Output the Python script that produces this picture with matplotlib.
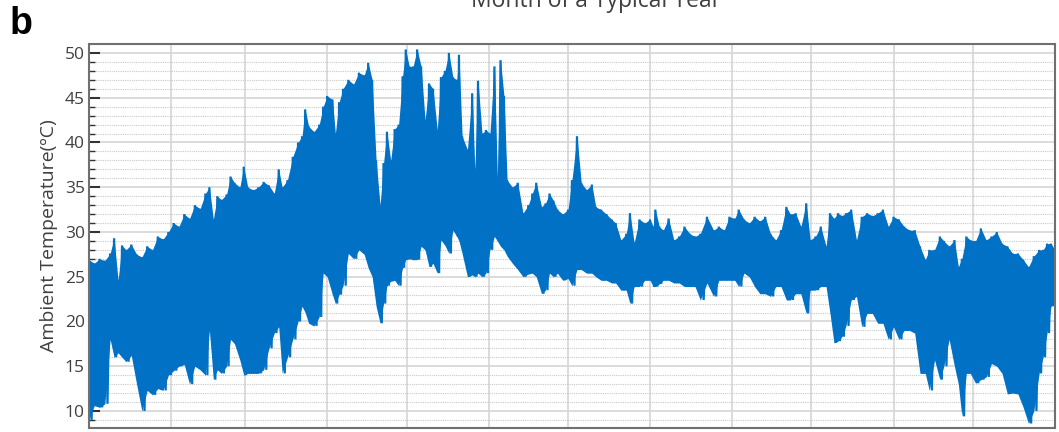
import numpy as np
import matplotlib.pyplot as plt

# day of year, daily high / low envelope (deg C)
day = [0, 2, 4, 6, 8, 9.5, 11, 12.5, 14, 16, 18, 20, 22, 24, 26, 28, 30, 32, 34, 36,
       38, 40, 42, 44, 45.5, 47, 48.5, 50, 52, 53.5, 55, 57, 58.5, 60,
       62, 64, 66, 68, 70, 71.7, 73, 75, 77, 79, 80.5, 81.7, 83, 85, 87, 88.5, 90, 92, 93.1, 94.5,
       96, 98, 100, 102, 104, 105.5, 107, 108.5, 110, 111.3, 112.6, 114, 115.5, 117, 118.5, 119.7, 121, 122.5,
       124, 125.5, 127, 128.5, 130, 131.6, 133, 134.5, 136, 137.5, 139, 139.8, 141, 143, 144.8, 145.8, 147, 148.5, 150, 151.5,
       153.2, 154.3, 155.5, 156.8, 158, 160, 162, 164, 166, 167.5, 169, 171, 172.5, 174, 175.5, 177, 179, 181, 182.5,
       184.4, 186, 188, 190, 191.5, 193.5, 195.5, 197.5, 199, 201, 203, 204.4, 206, 208, 210, 212, 213.2, 214, 215.5, 217,
       219, 221, 223, 225, 227, 229, 231, 233.5, 236, 238, 240, 242, 244,
       245.5, 247.5, 249.5, 251.5, 253.5, 255.5, 257.5, 259.5, 261.5, 263.5, 265, 267, 269, 271, 272.5, 274.5, 276.5, 278.5, 280, 281.5,
       283, 284.5, 286, 288, 290, 292, 294, 296, 298, 300, 302, 304, 306,
       308, 310, 312, 314, 316, 317.5, 319.5, 321.5, 323, 325, 327, 328.5, 329.8, 331.5, 333, 335, 337, 339, 341, 343,
       345, 347, 349, 351, 353, 355, 357, 359, 360.5, 362, 363.5, 365]

t_high = [26.9, 26.5, 27.0, 26.8, 27.6, 29.3, 24.6, 28.5, 28.0, 28.6, 27.5, 27.2, 28.4, 28.0, 29.5, 29.2, 30.0, 31.0, 30.6, 32.0,
          31.5, 33.0, 32.6, 34.3, 35.0, 31.4, 34.0, 33.6, 34.2, 36.2, 35.5, 35.0, 37.3, 35.0,
          34.7, 35.0, 35.6, 35.2, 34.3, 37.0, 35.0, 35.8, 38.4, 40.0, 40.7, 43.7, 41.8, 41.2, 42.0, 44.0, 45.2, 44.8, 41.0, 44.5,
          46.0, 47.0, 46.5, 47.8, 47.5, 48.9, 47.0, 38.0, 33.0, 37.7, 41.2, 38.0, 41.5, 42.0, 47.4, 50.4, 48.5, 48.5,
          50.4, 48.5, 42.5, 46.6, 46.0, 41.4, 47.3, 48.0, 50.0, 47.3, 47.0, 49.8, 40.7, 39.2, 45.5, 37.0, 46.9, 41.0, 41.4, 41.0,
          48.5, 36.2, 49.2, 45.2, 35.8, 35.0, 35.5, 32.1, 33.0, 34.3, 35.5, 32.8, 33.2, 34.3, 33.5, 32.5, 32.0, 32.5, 35.8,
          40.7, 35.5, 34.7, 35.3, 32.8, 32.5, 32.0, 31.4, 31.0, 29.1, 29.8, 32.1, 28.8, 31.4, 31.0, 31.4, 30.6, 32.5, 30.6, 30.2,
          31.5, 29.1, 29.5, 30.6, 29.8, 29.5, 29.8, 31.7, 30.2, 30.6, 30.2, 31.7, 31.5,
          32.5, 31.4, 31.0, 31.7, 31.2, 31.7, 29.8, 29.1, 30.2, 32.8, 32.0, 32.1, 30.6, 33.2, 29.1, 29.5, 30.6, 28.4, 32.1, 31.5,
          32.1, 31.8, 32.1, 32.5, 29.1, 31.7, 32.1, 31.8, 32.1, 32.5, 30.6, 31.7, 31.4,
          30.6, 30.2, 30.2, 28.4, 26.9, 28.0, 28.0, 29.5, 29.0, 28.4, 29.1, 26.1, 27.0, 29.5, 29.1, 29.0, 30.4, 29.1, 29.5, 30.0,
          28.7, 28.4, 27.6, 27.6, 26.9, 26.1, 27.3, 28.0, 28.0, 28.7, 28.7, 28.0]

t_low = [9.0, 10.6, 10.4, 10.8, 18.0, 16.0, 16.5, 16.0, 15.5, 16.2, 13.0, 10.0, 12.3, 11.8, 12.5, 12.3, 14.0, 14.5, 15.0, 15.2,
         13.0, 15.0, 14.6, 14.0, 19.0, 13.5, 14.6, 14.2, 15.0, 18.0, 17.5, 15.7, 14.0, 14.2,
         14.2, 14.2, 14.6, 17.0, 18.7, 19.4, 14.2, 16.0, 18.0, 20.0, 21.7, 21.0, 19.8, 19.5, 20.5, 25.4, 25.0, 23.0, 22.0, 23.0,
         24.0, 27.6, 27.0, 28.0, 27.5, 26.0, 25.0, 21.7, 19.8, 22.0, 24.0, 24.5, 24.6, 24.0, 26.0, 26.9, 27.0, 26.9,
         26.9, 28.4, 28.0, 26.1, 26.5, 25.4, 29.1, 28.5, 27.6, 30.2, 29.5, 29.0, 27.6, 25.0, 25.2, 25.0, 25.4, 25.0, 25.4, 28.0,
         29.5, 29.0, 28.4, 28.0, 27.3, 26.5, 25.8, 25.0, 25.3, 25.4, 25.0, 23.1, 23.5, 25.4, 25.0, 25.4, 24.6, 24.8, 24.0,
         25.8, 25.8, 25.4, 25.4, 25.0, 24.6, 24.6, 24.3, 24.3, 23.5, 23.5, 22.0, 23.9, 23.9, 24.6, 24.6, 23.9, 23.9, 24.2, 24.6,
         24.6, 24.3, 24.3, 23.9, 23.9, 23.9, 22.4, 24.3, 22.8, 24.6, 24.6, 24.6, 24.6,
         23.9, 25.4, 25.0, 23.9, 23.1, 23.1, 22.8, 23.9, 23.9, 22.4, 22.4, 23.1, 23.1, 20.9, 23.5, 23.5, 23.9, 23.9, 20.9, 17.6,
         17.8, 18.3, 19.5, 22.4, 22.8, 19.4, 20.9, 20.9, 19.8, 19.8, 18.0, 19.4, 18.0,
         19.0, 19.0, 18.7, 14.2, 14.2, 12.3, 15.7, 13.5, 15.0, 18.0, 15.0, 13.0, 9.4, 14.2, 14.2, 13.1, 13.5, 13.8, 15.3, 15.0,
         14.2, 11.9, 12.0, 11.9, 10.4, 8.6, 10.0, 14.2, 16.0, 18.7, 21.7, 22.0]

# month boundaries in hours of the year
month_edges = [744, 1416, 2160, 2880, 3624, 4344, 5088, 5832, 6552, 7296, 8016]

plt.rcParams['font.family'] = ['Open Sans', 'DejaVu Sans']

hours = np.array(day) * 24
blue = '#0071C5'

fig = plt.figure(figsize=(10.59, 4.32), dpi=100)
ax = fig.add_axes([0.084, 0.0093, 0.9122, 0.8888])

# solid body of the band, then a high/low zigzag for the spiky edges
ax.fill_between(hours, t_low, t_high, color=blue, lw=0)
mid = np.append((hours[1:] + hours[:-1]) / 2, hours[-1])
zx = np.column_stack([hours, mid]).ravel()
zy = np.column_stack([t_high, t_low]).ravel()
ax.plot(zx, zy, color=blue, lw=1.6, solid_joinstyle='miter')

ax.set_xlim(0, 8760)
ax.set_ylim(8.1, 51)
ax.set_xticks(month_edges)
ax.set_xticklabels([])
ax.tick_params(axis='x', length=0)
ax.set_yticks([10, 15, 20, 25, 30, 35, 40, 45, 50])
ax.set_yticks(np.arange(9, 51), minor=True)
ax.tick_params(axis='y', direction='in', length=8, width=1.5, color='#333333',
               labelsize=12.5, labelcolor='#404040', pad=3)
ax.tick_params(axis='y', which='minor', direction='in', length=4, width=1, color='#333333')

ax.set_axisbelow(True)
ax.grid(axis='x', color='#d6d6d6', lw=1.2)
ax.grid(axis='y', which='major', color='#d6d6d6', lw=1.2)
ax.grid(axis='y', which='minor', color='#c8c8c8', lw=0.8, linestyle=(0, (1, 1)))
for s in ax.spines.values():
    s.set_color('#707070')
    s.set_linewidth(1.5)

ax.set_ylabel('Ambient Temperature(ºC)', fontsize=14, color='#404040', labelpad=5)

fig.text(0.563, 0.984, 'Month of a Typical Year', ha='center', va='baseline',
         fontsize=16.5, color='#404040')
fig.text(0.009, 0.985, 'b', ha='left', va='top', fontsize=27, fontweight='bold',
         family='Liberation Sans')

fig.savefig('out.png', dpi=100)
